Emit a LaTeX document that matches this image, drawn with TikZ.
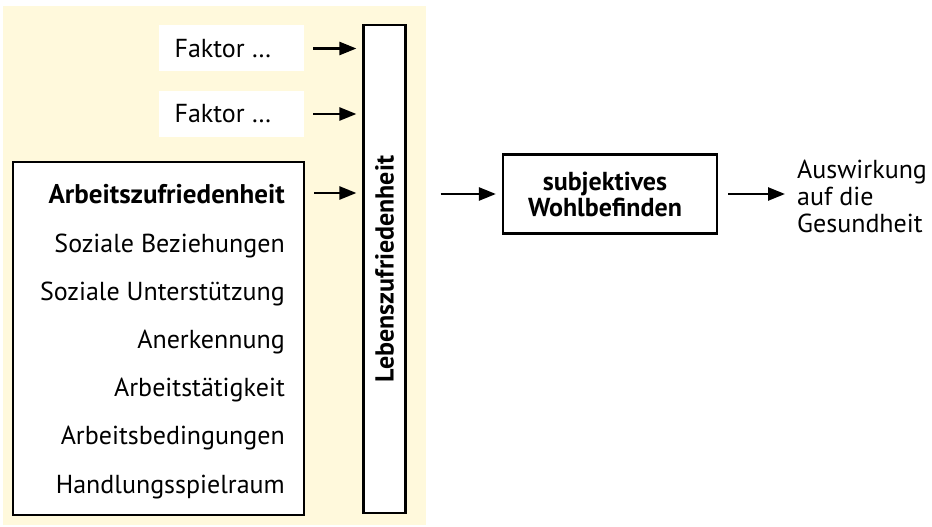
\documentclass[tikz,border=0pt]{standalone}
\usepackage{fontspec}
\setmainfont{PT Sans}
\usetikzlibrary{arrows.meta}
\definecolor{bgyellow}{RGB}{255,249,220}
\tikzset{
  boxline/.style={draw=black, line width=2.2pt, fill=white, inner sep=0pt},
  faktorbox/.style={fill=white, inner sep=0pt, minimum width=145pt, minimum height=46pt},
  listtext/.style={anchor=base east, inner sep=0pt, font=\fontsize{26}{30}\selectfont},
  conn/.style={line width=2.5pt, -{Triangle[length=17pt,width=13pt]}},
}
\begin{document}
\begin{tikzpicture}[x=1pt,y=-1pt]
\useasboundingbox (0,0) rectangle (932,527);
\fill[bgyellow] (3,6) rectangle (426,525);
% Lebenszufriedenheit
\node[boxline, minimum width=42pt, minimum height=488pt] (lz) at (384.5,269) {};
\node[rotate=90, font=\fontsize{26}{30}\selectfont\bfseries] (lzt) at (lz.center) {Lebenszufriedenheit};
% Faktor boxes
\node[faktorbox] (f1) at (231.5,48.5) {};
\node[font=\fontsize{26}{30}\selectfont, inner sep=0pt] (f1t) at (223,48.5) {Faktor \dots};
\node[faktorbox] (f2) at (231.5,114) {};
\node[font=\fontsize{26}{30}\selectfont, inner sep=0pt] (f2t) at (223,114) {Faktor \dots};
% left list box
\node[boxline, minimum width=291pt, minimum height=353pt] (lb) at (158.5,338.5) {};
\node[listtext, font=\fontsize{27}{30}\selectfont\bfseries] (l1) at (285,203) {Arbeitszufriedenheit};
\node[listtext] (l2) at (285,252) {Soziale Beziehungen};
\node[listtext] (l3) at (285,300) {Soziale Unterstützung};
\node[listtext] (l4) at (285,348) {Anerkennung};
\node[listtext] (l5) at (285,396.5) {Arbeitstätigkeit};
\node[listtext] (l6) at (285,444.5) {Arbeitsbedingungen};
\node[listtext] (l7) at (285,493) {Handlungsspielraum};
\coordinate (azc) at (300,193);
% subjektives Wohlbefinden
\node[boxline, minimum width=214pt, minimum height=79pt] (sw) at (610,194) {};
\node[align=center, font=\fontsize{26}{26}\selectfont\bfseries, inner sep=0pt] (swt) at (605,194) {subjektives\\Wohlbefinden};
% Auswirkung
\node[anchor=west, align=left, inner sep=0pt, font=\fontsize{26}{27}\selectfont] (aus) at (797,196) {Auswirkung\\auf die\\Gesundheit};
% connectors
\draw[conn, shorten <=9pt, shorten >=6pt] (f1.east) -- (f1.east -| lz.west);
\draw[conn, shorten <=9pt, shorten >=6pt] (f2.east) -- (f2.east -| lz.west);
\draw[conn, shorten <=9pt, shorten >=6pt] (lb.east |- azc) -- (lz.west |- azc);
\draw[conn, shorten <=34pt, shorten >=6pt] (lz.east |- sw) -- (sw.west);
\draw[conn, shorten <=10pt, shorten >=12pt] (sw.east) -- (sw.east -| aus.west);
\end{tikzpicture}
\end{document}
